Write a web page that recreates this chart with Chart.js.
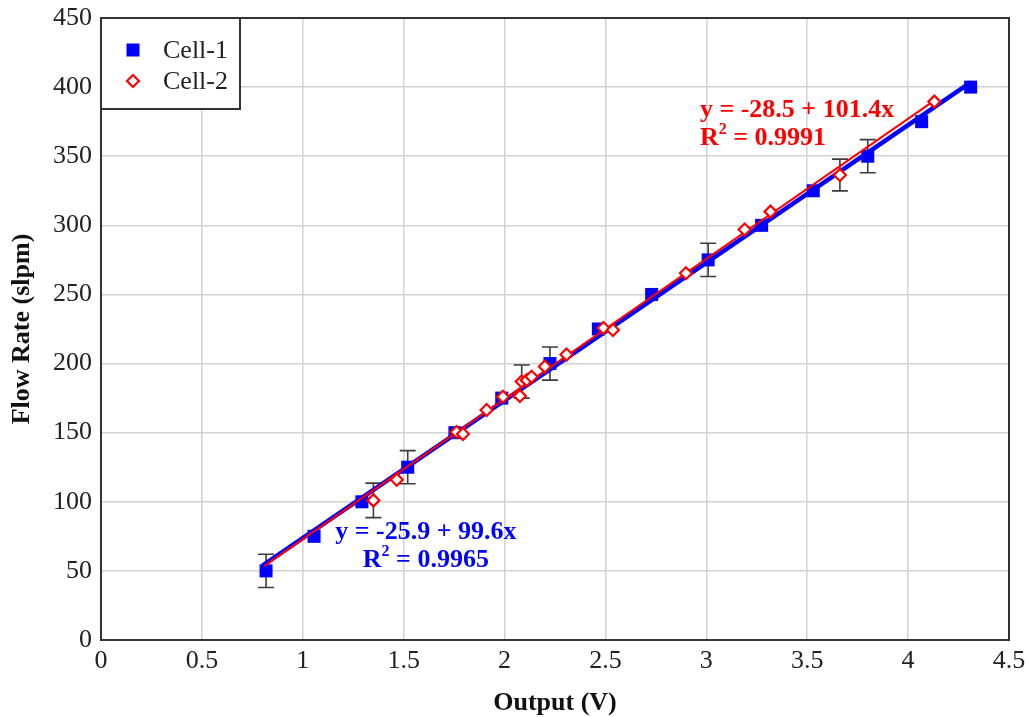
<!DOCTYPE html>
<html>
<head>
<meta charset="utf-8">
<script src="https://cdn.jsdelivr.net/npm/chart.js@4.4.1/dist/chart.umd.min.js"></script>
<style>
  html, body { margin: 0; padding: 0; background: #fff; }
  #wrap { width: 1029px; height: 717px; }
</style>
</head>
<body>
<div id="wrap"><canvas id="flowChart"></canvas></div>
<script>
// Cell-1 calibration points (output voltage vs flow rate), error bar half-heights (0 = none)
var cell1X = [0.818, 1.056, 1.293, 1.52, 1.754, 1.986, 2.225, 2.465, 2.729, 3.009, 3.274, 3.53, 3.80, 4.067, 4.31];
var cell1Y = [50, 75, 100, 125, 150, 175, 200, 225, 250, 275, 300, 325, 350, 375, 400];
var cell1Err = [12, 0, 0, 12, 0, 0, 12, 0, 0, 12, 0, 0, 12, 0, 0];

// Cell-2 points
var cell2X = [1.35, 1.466, 1.762, 1.794, 1.911, 1.992, 2.076, 2.085, 2.11, 2.134, 2.2, 2.307, 2.49, 2.537, 2.899, 3.19, 3.318, 3.662, 4.13];
var cell2Y = [101, 116, 150.5, 149, 166.4, 176, 176.5, 187, 188, 190.5, 197.8, 206.5, 225.7, 224.3, 265.3, 297, 309.9, 336.4, 389.5];
var cell2Err = [12.5, 0, 0, 0, 0, 0, 0, 12, 0, 0, 0, 0, 0, 0, 0, 0, 0, 11.5, 0];

// linear fit lines, end points
var fit1X = [0.80, 4.31];
var fit1Y = [53.8, 403.4];
var fit2X = [0.81, 4.14];
var fit2Y = [53.6, 391.3];

// equation labels
var fit1Text = ['y = -25.9 + 99.6x', '0.9965'];
var fit2Text = ['y = -28.5 + 101.4x', '0.9991'];

var seriesNames = ['Cell-1', 'Cell-2'];
var blue = '#0000ff';
var red = '#ff0000';
var serif = "'Liberation Serif', 'Times New Roman', serif";

function toPoints(xs, ys) {
  return xs.map(function (x, i) { return { x: x, y: ys[i] }; });
}

function drawMarker(ctx, style, x, y) {
  ctx.save();
  if (style === 'square') {
    ctx.fillStyle = blue;
    ctx.fillRect(x - 6.5, y - 6.5, 13, 13);
  } else {
    ctx.beginPath();
    ctx.moveTo(x, y - 6); ctx.lineTo(x + 6, y); ctx.lineTo(x, y + 6); ctx.lineTo(x - 6, y);
    ctx.closePath();
    ctx.fillStyle = '#fff';
    ctx.fill();
    ctx.strokeStyle = red;
    ctx.lineWidth = 2.2;
    ctx.stroke();
  }
  ctx.restore();
}

// "R" + superscript 2 + " = value"
function drawR2(ctx, value, x, y, align) {
  ctx.font = 'bold 26px ' + serif;
  var wR = ctx.measureText('R').width;
  var rest = ' = ' + value;
  var wRest = ctx.measureText(rest).width;
  ctx.font = 'bold 16px ' + serif;
  var w2 = ctx.measureText('2').width;
  var total = wR + w2 + wRest;
  var left = align === 'center' ? x - total / 2 : x;
  ctx.textAlign = 'left';
  ctx.textBaseline = 'middle';
  ctx.font = 'bold 26px ' + serif;
  ctx.fillText('R', left, y);
  ctx.font = 'bold 16px ' + serif;
  ctx.fillText('2', left + wR, y - 8);
  ctx.font = 'bold 26px ' + serif;
  ctx.fillText(rest, left + wR + w2, y);
}

var decorPlugin = {
  id: 'decor',
  beforeDatasetsDraw: function (chart) {
    // error bars, behind the markers
    var ctx = chart.ctx, ys = chart.scales.y;
    ctx.save();
    ctx.strokeStyle = '#3c3c3c';
    ctx.lineWidth = 1.6;
    chart.data.datasets.forEach(function (ds, i) {
      if (!ds.errors) return;
      var meta = chart.getDatasetMeta(i);
      meta.data.forEach(function (pt, j) {
        var e = ds.errors[j];
        if (!e) return;
        var v = ds.data[j].y;
        var top = ys.getPixelForValue(v + e);
        var bot = ys.getPixelForValue(v - e);
        ctx.beginPath();
        ctx.moveTo(pt.x, top); ctx.lineTo(pt.x, bot);
        ctx.moveTo(pt.x - 8, top); ctx.lineTo(pt.x + 8, top);
        ctx.moveTo(pt.x - 8, bot); ctx.lineTo(pt.x + 8, bot);
        ctx.stroke();
      });
    });
    ctx.restore();
  },
  afterDraw: function (chart) {
    var ctx = chart.ctx, a = chart.chartArea;
    var xs = chart.scales.x, ys = chart.scales.y;
    ctx.save();

    // plot frame
    ctx.strokeStyle = '#333';
    ctx.lineWidth = 2;
    ctx.strokeRect(a.left, a.top, a.right - a.left, a.bottom - a.top);

    // fit equations
    ctx.fillStyle = blue;
    ctx.font = 'bold 26px ' + serif;
    ctx.textAlign = 'center';
    ctx.textBaseline = 'middle';
    ctx.fillText(fit1Text[0], xs.getPixelForValue(1.61), ys.getPixelForValue(78.1));
    drawR2(ctx, fit1Text[1], xs.getPixelForValue(1.61), ys.getPixelForValue(57.9), 'center');

    ctx.fillStyle = red;
    ctx.font = 'bold 26px ' + serif;
    ctx.textAlign = 'left';
    ctx.fillText(fit2Text[0], xs.getPixelForValue(2.968), ys.getPixelForValue(383.5));
    drawR2(ctx, fit2Text[1], xs.getPixelForValue(2.968), ys.getPixelForValue(363.2), 'left');

    // legend box
    var lx = a.left, ly = a.top;
    ctx.fillStyle = '#fff';
    ctx.fillRect(lx, ly, 139, 91);
    ctx.strokeStyle = '#333';
    ctx.lineWidth = 2;
    ctx.strokeRect(lx, ly, 139, 91);
    drawMarker(ctx, 'square', lx + 32, ly + 32);
    drawMarker(ctx, 'diamond', lx + 32, ly + 63);
    ctx.fillStyle = '#222';
    ctx.font = '26px ' + serif;
    ctx.textAlign = 'left';
    ctx.textBaseline = 'middle';
    ctx.fillText(seriesNames[0], lx + 62, ly + 33);
    ctx.fillText(seriesNames[1], lx + 62, ly + 64);

    ctx.restore();
  }
};

var ctx = document.getElementById('flowChart').getContext('2d');

var myChart = new Chart(ctx, {
  type: 'scatter',
  data: {
    datasets: [
      {
        label: seriesNames[1],
        data: toPoints(cell2X, cell2Y),
        errors: cell2Err,
        pointStyle: 'rectRot',
        pointRadius: 6,
        pointBorderWidth: 2.2,
        pointBackgroundColor: '#fff',
        pointBorderColor: red,
        order: 0
      },
      {
        label: 'Cell-2 fit',
        data: toPoints(fit2X, fit2Y),
        showLine: true,
        borderColor: red,
        borderWidth: 2,
        pointRadius: 0,
        order: 1
      },
      {
        label: 'Cell-1 fit',
        data: toPoints(fit1X, fit1Y),
        showLine: true,
        borderColor: blue,
        borderWidth: 4.5,
        pointRadius: 0,
        order: 2
      },
      {
        label: seriesNames[0],
        data: toPoints(cell1X, cell1Y),
        errors: cell1Err,
        pointStyle: 'rect',
        pointRadius: 9.2,
        pointBorderWidth: 0,
        pointBackgroundColor: blue,
        pointBorderColor: blue,
        order: 3
      }
    ]
  },
  options: {
    responsive: true,
    maintainAspectRatio: false,
    animation: false,
    layout: { padding: { top: 18, right: 20, left: 0, bottom: 0 } },
    scales: {
      x: {
        type: 'linear',
        min: 0,
        max: 4.5,
        afterFit: function (scale) {
          scale.height = 77;
          scale.paddingLeft = 0;
          scale.paddingRight = 0;
        },
        grid: { color: '#d2d2d2', lineWidth: 1.5, drawTicks: false },
        border: { display: false },
        ticks: {
          stepSize: 0.5,
          padding: 6,
          color: '#222',
          font: { family: serif, size: 26 },
          callback: function (v) { return String(+v.toFixed(2)); }
        },
        title: {
          display: true,
          text: 'Output (V)',
          color: '#111',
          font: { family: serif, size: 26, weight: 'bold', lineHeight: 1 },
          padding: { top: 0, bottom: 1 }
        }
      },
      y: {
        min: 0,
        max: 450,
        afterFit: function (scale) {
          scale.width = 101;
          scale.paddingTop = 0;
          scale.paddingBottom = 0;
        },
        grid: { color: '#d2d2d2', lineWidth: 1.5, drawTicks: false },
        border: { display: false },
        ticks: {
          stepSize: 50,
          padding: 9,
          color: '#222',
          font: { family: serif, size: 26 }
        },
        title: {
          display: true,
          text: 'Flow Rate (slpm)',
          color: '#111',
          font: { family: serif, size: 26, weight: 'bold', lineHeight: 1 },
          padding: { top: 9, bottom: 0 }
        }
      }
    },
    plugins: {
      legend: { display: false },
      tooltip: { enabled: false }
    }
  },
  plugins: [decorPlugin]
});
</script>
</body>
</html>
